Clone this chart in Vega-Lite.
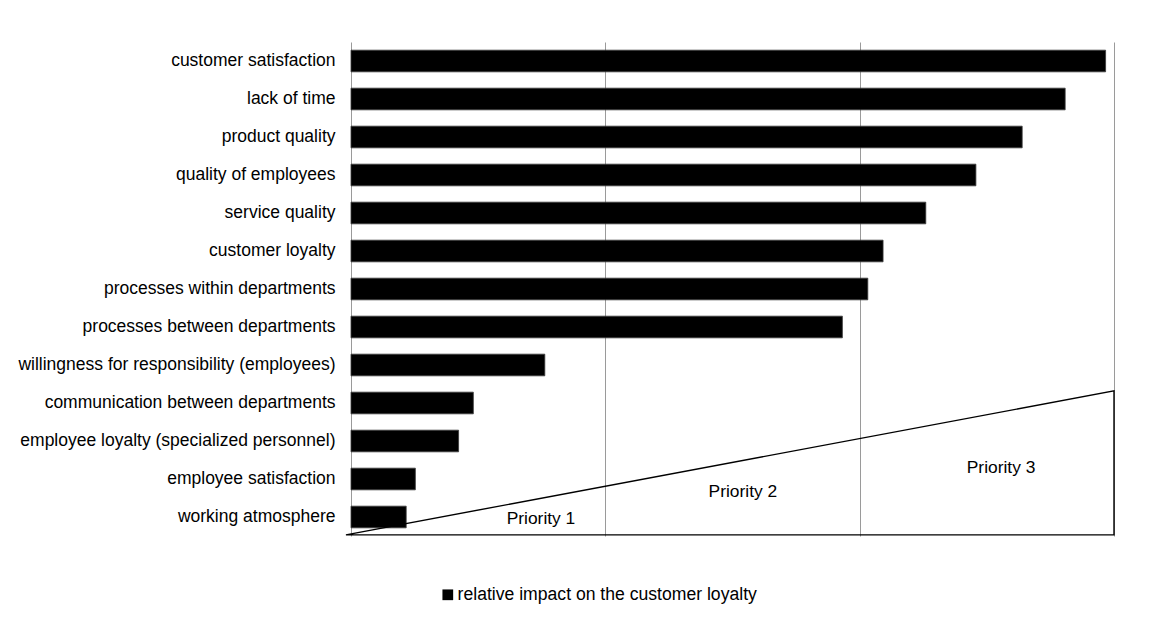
{
  "$schema": "https://vega.github.io/schema/vega-lite/v6.json",
  "width": 763,
  "height": 494,
  "padding": {"left": 17, "top": 42, "right": 40, "bottom": 10},
  "background": "white",
  "config": {
    "view": {"stroke": null},
    "font": "Liberation Sans",
    "text": {"font": "Liberation Sans"}
  },
  "datasets": {
    "bars": [
      {"factor": "customer satisfaction", "impact": 2.967, "series": "relative impact on the customer loyalty"},
      {"factor": "lack of time", "impact": 2.808, "series": "relative impact on the customer loyalty"},
      {"factor": "product quality", "impact": 2.639, "series": "relative impact on the customer loyalty"},
      {"factor": "quality of employees", "impact": 2.457, "series": "relative impact on the customer loyalty"},
      {"factor": "service quality", "impact": 2.26, "series": "relative impact on the customer loyalty"},
      {"factor": "customer loyalty", "impact": 2.092, "series": "relative impact on the customer loyalty"},
      {"factor": "processes within departments", "impact": 2.032, "series": "relative impact on the customer loyalty"},
      {"factor": "processes between departments", "impact": 1.932, "series": "relative impact on the customer loyalty"},
      {"factor": "willingness for responsibility (employees)", "impact": 0.762, "series": "relative impact on the customer loyalty"},
      {"factor": "communication between departments", "impact": 0.481, "series": "relative impact on the customer loyalty"},
      {"factor": "employee loyalty (specialized personnel)", "impact": 0.423, "series": "relative impact on the customer loyalty"},
      {"factor": "employee satisfaction", "impact": 0.253, "series": "relative impact on the customer loyalty"},
      {"factor": "working atmosphere", "impact": 0.217, "series": "relative impact on the customer loyalty"}
    ],
    "triangle": [
      {"px": -0.02, "py": 0.03, "o": 1},
      {"px": 3, "py": 3.82, "o": 2},
      {"px": 3, "py": 0.03, "o": 3},
      {"px": -0.02, "py": 0.03, "o": 4}
    ],
    "labels": [
      {"label": "Priority 1", "lx": 0.747, "ly": 0.447},
      {"label": "Priority 2", "lx": 1.541, "ly": 1.158},
      {"label": "Priority 3", "lx": 2.556, "ly": 1.79}
    ]
  },
  "layer": [
    {
      "data": {"name": "bars"},
      "mark": {"type": "bar", "stroke": "#3a3a3a", "strokeWidth": 0.8},
      "encoding": {
        "y": {
          "field": "factor", "type": "nominal", "sort": null,
          "scale": {"paddingInner": 0.43},
          "axis": {"title": null, "domain": false, "ticks": false, "tickSize": 0, "labelPadding": 16, "labelFontSize": 17.5, "labelColor": "#000", "labelLimit": 500, "labelFont": "Liberation Sans"}
        },
        "x": {
          "field": "impact", "type": "quantitative",
          "scale": {"domain": [0, 3], "nice": false},
          "axis": {"title": null, "labels": false, "ticks": false, "domain": false, "grid": true, "gridColor": "#9a9a9a", "gridWidth": 1, "values": [0, 1, 2, 3]}
        },
        "color": {
          "field": "series", "type": "nominal",
          "scale": {"range": ["#000000"]},
          "legend": {"title": null, "orient": "none", "legendX": 88, "legendY": 544, "symbolType": "square", "symbolSize": 115, "symbolStrokeWidth": 0, "labelFontSize": 17.6, "labelColor": "#000", "labelOffset": 1, "labelLimit": 600, "labelFont": "Liberation Sans"}
        }
      }
    },
    {
      "data": {"name": "triangle"},
      "mark": {"type": "line", "color": "#000000", "strokeWidth": 1.4},
      "encoding": {
        "x": {"field": "px", "type": "quantitative"},
        "y": {"field": "py", "type": "quantitative", "scale": {"domain": [0, 13], "nice": false}, "axis": null},
        "order": {"field": "o", "type": "quantitative"}
      }
    },
    {
      "data": {"name": "labels"},
      "mark": {"type": "text", "fontSize": 17.4, "color": "#000000", "font": "Liberation Sans"},
      "encoding": {
        "x": {"field": "lx", "type": "quantitative"},
        "y": {"field": "ly", "type": "quantitative", "scale": {"domain": [0, 13], "nice": false}, "axis": null},
        "text": {"field": "label", "type": "nominal"}
      }
    }
  ],
  "resolve": {"scale": {"y": "independent"}}
}
